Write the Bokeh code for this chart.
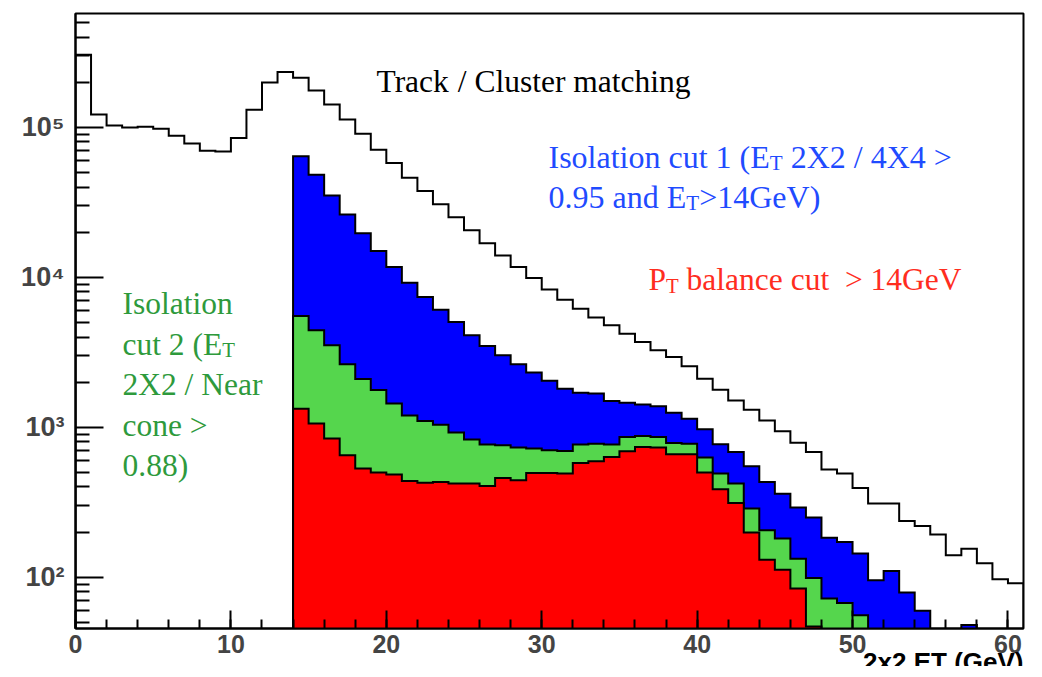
import numpy as np
from bokeh.plotting import figure
from bokeh.models import Label, Range1d, FixedTicker, CustomJSTickFormatter, Title
from bokeh.embed import file_html
from bokeh.resources import INLINE

# ---------------- data (bin width 1 GeV, bins 0..61) ----------------
bin_edges = list(range(0, 62))

track_cluster = [3.05e5, 1.22e5, 1.03e5, 1.00e5, 1.01e5, 0.98e5, 8.8e4, 7.8e4, 7.0e4, 6.9e4,
                 8.5e4, 1.31e5, 1.99e5, 2.34e5, 2.14e5, 1.76e5, 1.42e5, 1.13e5, 9.08e4, 7.1e4,
                 5.78e4, 4.62e4, 3.76e4, 3.07e4, 2.52e4, 2.06e4, 1.69e4, 1.40e4, 1.17e4, 9.9e3,
                 8.3e3, 7.1e3, 6.18e3, 5.39e3, 4.79e3, 4.21e3, 3.71e3, 3.26e3, 2.94e3, 2.55e3,
                 2.11e3, 1.78e3, 1.51e3, 1.31e3, 1.11e3, 940, 790, 684, 523, 491,
                 394, 310, 310, 237, 220, 193, 140, 155, 124, 97, 91]

iso_cut1 = [0] * 14 + [6.41e4, 4.84e4, 3.52e4, 2.62e4, 1.97e4, 1.50e4, 1.17e4, 9.22e3, 7.39e3, 6.09e3,
                       5.04e3, 4.11e3, 3.49e3, 3.02e3, 2.63e3, 2.32e3, 2.04e3, 1.81e3, 1.70e3, 1.68e3,
                       1.50e3, 1.46e3, 1.42e3, 1.38e3, 1.25e3, 1.14e3, 970, 770, 684, 550,
                       432, 361, 292, 250, 183, 172, 144, 95.5, 110, 79,
                       59.7, 0, 0, 48, 0, 0, 0]

iso_cut2 = [0] * 14 + [5.52e3, 4.43e3, 3.52e3, 2.63e3, 2.10e3, 1.77e3, 1.44e3, 1.20e3, 1.10e3, 1.04e3,
                       922, 829, 767, 759, 732, 721, 703, 696, 767, 778,
                       767, 861, 874, 861, 786, 778, 628, 491, 421, 287,
                       206, 181, 133, 99, 72, 67.4, 55.8, 0, 0, 0,
                       0, 0, 0, 0, 0, 0, 0]

pt_balance = [0] * 14 + [1.33e3, 1.06e3, 841, 651, 531, 499, 484, 439, 426, 432,
                         421, 421, 406, 459, 443, 496, 496, 491, 578, 593,
                         634, 692, 739, 732, 661, 661, 499, 386, 313, 199,
                         131, 112, 84, 47, 0, 0, 0, 0, 0, 0,
                         0, 0, 0, 0, 0, 0, 0]

x_ticks = [0, 10, 20, 30, 40, 50, 60]
y_decades = [2, 3, 4, 5]
y_tick_labels = ["10\u00b2", "10\u00b3", "10\u2074", "10\u2075"]
x_title = "2x2 ET (GeV)"

XMIN, XMAX = 0.0, 61.0
YMIN, YMAX = 45.5, 5.75e5
ML, MR, MT = 75, 19, 13
FW, FH = 948, 615

p = figure(frame_width=FW, frame_height=FH, x_range=Range1d(XMIN, XMAX), y_range=Range1d(YMIN, YMAX),
           y_axis_type="log", output_backend="svg", toolbar_location=None,
           min_border_left=ML, min_border_right=MR, min_border_top=MT, min_border_bottom=10)
p.background_fill_color = "white"
p.border_fill_color = "white"
p.outline_line_color = "black"
p.outline_line_width = 2
p.xgrid.visible = False
p.ygrid.visible = False

# x axis
xa = p.xaxis[0]
xa.ticker = FixedTicker(ticks=x_ticks, minor_ticks=list(range(0, 62, 2)))
xa.axis_line_width = 2
xa.major_tick_in, xa.major_tick_out = 18, 0
xa.minor_tick_in, xa.minor_tick_out = 9, 0
xa.major_tick_line_width = 2
xa.minor_tick_line_width = 2
xa.major_label_text_font = "Liberation Sans"
xa.major_label_text_font_style = "bold"
xa.major_label_text_font_size = "25px"
xa.major_label_standoff = 6

# x-axis title, right-aligned under the tick labels
p.add_layout(Title(text=x_title, align="right", text_font="Liberation Sans",
                   text_font_style="bold", text_font_size="26px", text_color="black",
                   standoff=-21), "below")

# y axis
ya = p.yaxis[0]
minor = [k * 10 ** d for d in range(1, 6) for k in range(2, 10) if YMIN <= k * 10 ** d <= YMAX]
ya.ticker = FixedTicker(ticks=[10.0 ** d for d in y_decades], minor_ticks=minor)
ya.formatter = CustomJSTickFormatter(
    args=dict(labels=y_tick_labels, decades=y_decades),
    code="const i = decades.indexOf(Math.round(Math.log10(tick))); return i >= 0 ? labels[i] : '';")
ya.axis_line_width = 2
ya.major_tick_in, ya.major_tick_out = 28, 0
ya.minor_tick_in, ya.minor_tick_out = 14, 0
ya.major_tick_line_width = 2
ya.minor_tick_line_width = 2
ya.major_label_text_font = "Liberation Sans"
ya.major_label_text_font_style = "bold"
ya.major_label_text_font_size = "27px"
ya.major_label_standoff = 11


def step_xy(vals, floor=1.0):
    idx = [i for i, v in enumerate(vals) if v > 0]
    lo, hi = idx[0], idx[-1] + 1
    xs, ys = [bin_edges[lo]], [floor]
    for i in range(lo, hi):
        y = vals[i] if vals[i] > 0 else floor
        xs += [bin_edges[i], bin_edges[i + 1]]
        ys += [y, y]
    xs.append(bin_edges[hi])
    ys.append(floor)
    return xs, ys


def hist(vals, fill=None):
    xs, ys = step_xy(vals)
    if fill is not None:
        p.patch(xs, ys, fill_color=fill, line_color=None)
    p.line(xs, ys, line_color="black", line_width=2, line_join="miter")


hist(track_cluster)
hist(iso_cut1, "#0000ff")
hist(iso_cut2, "#55d64d")
hist(pt_balance, "#ff0000")

# ---------------- text helpers ----------------
def dx(px):
    return XMIN + (px - ML) / FW * (XMAX - XMIN)


def dy(py):
    lo, hi = np.log10(YMIN), np.log10(YMAX)
    return 10 ** (hi - (py - MT) / FH * (hi - lo))


TIMES = {' ': 250, '(': 333, ')': 333, '/': 278, '.': 250, '>': 564, 'E': 611, 'G': 722,
         'I': 333, 'P': 556, 'T': 611, 'V': 722, 'X': 722, 'C': 667, 'N': 722,
         'a': 444, 'b': 500, 'c': 444, 'd': 500, 'e': 444, 'g': 500, 'h': 500, 'i': 278,
         'k': 500, 'l': 278, 'm': 778, 'n': 500, 'o': 500, 'r': 333, 's': 389, 't': 278,
         'u': 500}
BASE_SHIFT = 0.41  # rendered baseline lies this many font-sizes below the anchor


def twidth(s, size):
    return sum(TIMES.get(c, 500) for c in s) / 1000.0 * size


def put(txt, x, base, sz, color):
    p.add_layout(Label(x=dx(x), y=dy(base - BASE_SHIFT * sz), text=txt, text_font="Liberation Serif",
                       text_font_size=f"{sz:.1f}px", text_color=color,
                       text_baseline="alphabetic", text_align="left"))


def rich(parts, x_px, base_px, size, color):
    x = x_px
    for txt, sub in parts:
        sz = size * 0.66 if sub else size
        by = base_px + (1.5 if sub else 0)
        word = ""
        for c in txt + "\0":
            if c in (" ", "\0"):
                if word:
                    put(word, x, by, sz, color)
                    x += twidth(word, sz)
                    word = ""
                if c == " ":
                    x += twidth(" ", sz)
            else:
                word += c


rich([("Track / Cluster matching", False)], 376, 94, 31.5, "black")

BLUE_T = "#1f4bff"
rich([("Isolation cut 1 (E", False), ("T", True), (" 2X2 / 4X4 >", False)], 548, 170, 32, BLUE_T)
rich([("0.95 and E", False), ("T", True), (">14GeV)", False)], 548, 210, 32, BLUE_T)

RED_T = "#ff2d1e"
rich([("P", False), ("T", True), (" balance cut  > 14GeV", False)], 648, 292, 31.5, RED_T)

GREEN_T = "#2e9a3c"
green_lines = [[("Isolation", False)],
               [("cut 2 (E", False), ("T", True)],
               [("2X2 / Near", False)],
               [("cone >", False)],
               [("0.88)", False)]]
for k, parts in enumerate(green_lines):
    rich(parts, 122, 316 + 40.5 * k, 31.5, GREEN_T)

open("out.html", "w").write(file_html(p, INLINE))
